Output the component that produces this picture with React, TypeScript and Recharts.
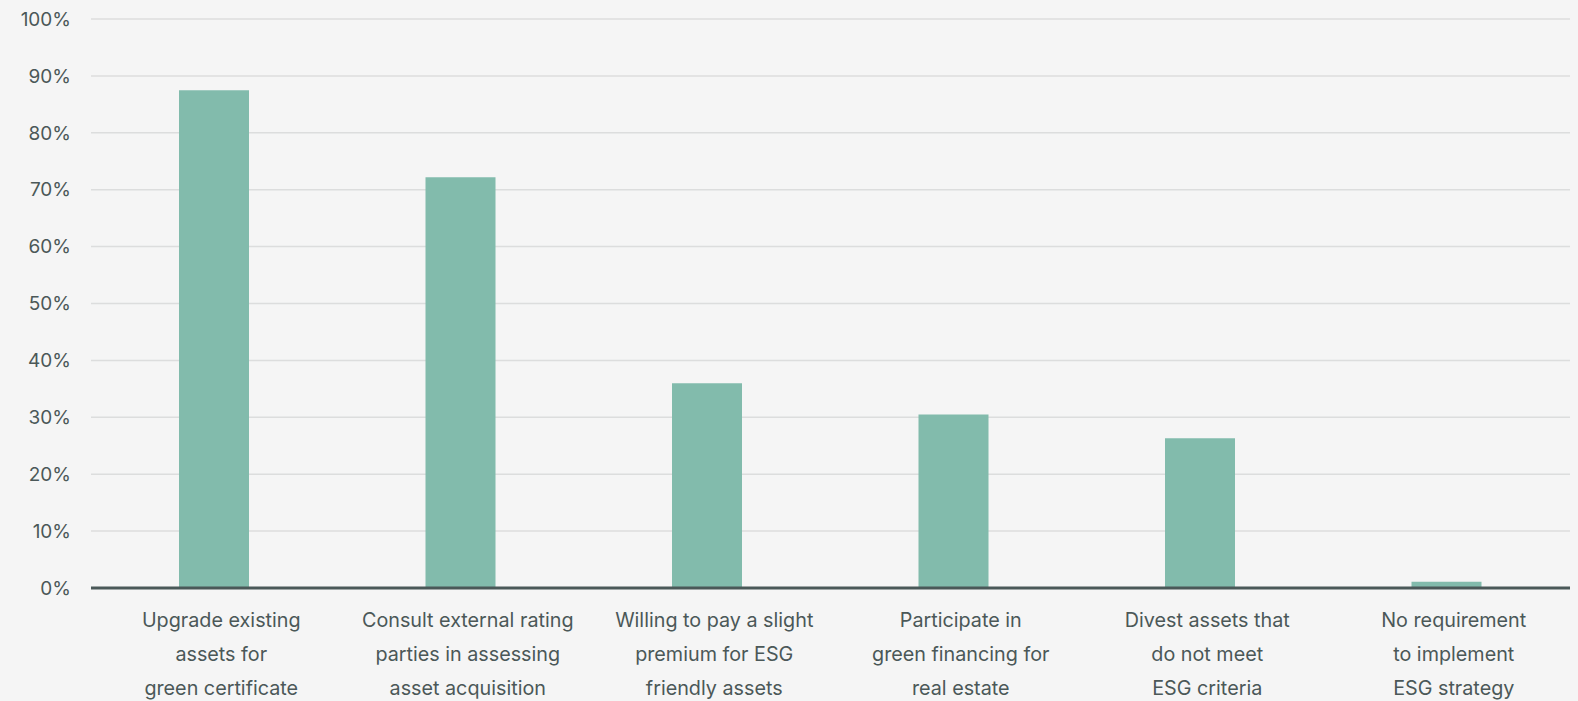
import { BarChart, Bar, XAxis, YAxis, CartesianGrid } from 'recharts'

const categorias = [
  'Upgrade existing\nassets for\ngreen certificate',
  'Consult external rating\nparties in assessing\nasset acquisition',
  'Willing to pay a slight\npremium for ESG\nfriendly assets',
  'Participate in\ngreen financing for\nreal estate',
  'Divest assets that\ndo not meet\nESG criteria',
  'No requirement\nto implement\nESG strategy',
]

const valores = [87.5, 72.2, 36.0, 30.5, 26.3, 1.1]

const ticksY = [0, 10, 20, 30, 40, 50, 60, 70, 80, 90, 100]

const data = categorias.map((nome, i) => ({ nome, valor: valores[i] }))

const COR_TEXTO = '#4b5858'
const FONTE = 'Inter, Roboto, sans-serif'

// the category labels sit a little right of the bar centre in the original
function TickCategoria({ x, y, payload }: any) {
  const linhas = String(payload.value).split('\n')
  const cx = x + 7
  return (
    <text x={cx} y={y} textAnchor="middle" fill={COR_TEXTO} fontSize={19.75} fontFamily={FONTE}>
      {linhas.map((l, i) => (
        <tspan key={i} x={cx} dy={i === 0 ? 31 : 34}>
          {l}
        </tspan>
      ))}
    </text>
  )
}

export default function App() {
  return (
    <div
      style={{
        position: 'absolute',
        left: 0,
        top: 0,
        width: 1578,
        height: 701,
        background: '#f5f5f5',
        fontFamily: FONTE,
      }}
    >
      <BarChart
        width={1578}
        height={701}
        data={data}
        margin={{ top: 19, right: 8, left: 0, bottom: 0 }}
      >
        <CartesianGrid vertical={false} stroke="#dcdddd" strokeWidth={1.5} />
        <XAxis
          dataKey="nome"
          height={113}
          interval={0}
          tickLine={false}
          axisLine={{ stroke: '#4a5858', strokeWidth: 3 }}
          tick={<TickCategoria />}
        />
        <YAxis
          width={91}
          domain={[0, 100]}
          ticks={ticksY}
          interval={0}
          axisLine={false}
          tickLine={false}
          tickMargin={14}
          tickFormatter={(v) => `${v}%`}
          tick={{ fill: COR_TEXTO, fontSize: 19, fontFamily: FONTE }}
        />
        <Bar dataKey="valor" fill="#82bbac" barSize={70} isAnimationActive={false} />
      </BarChart>
    </div>
  )
}
